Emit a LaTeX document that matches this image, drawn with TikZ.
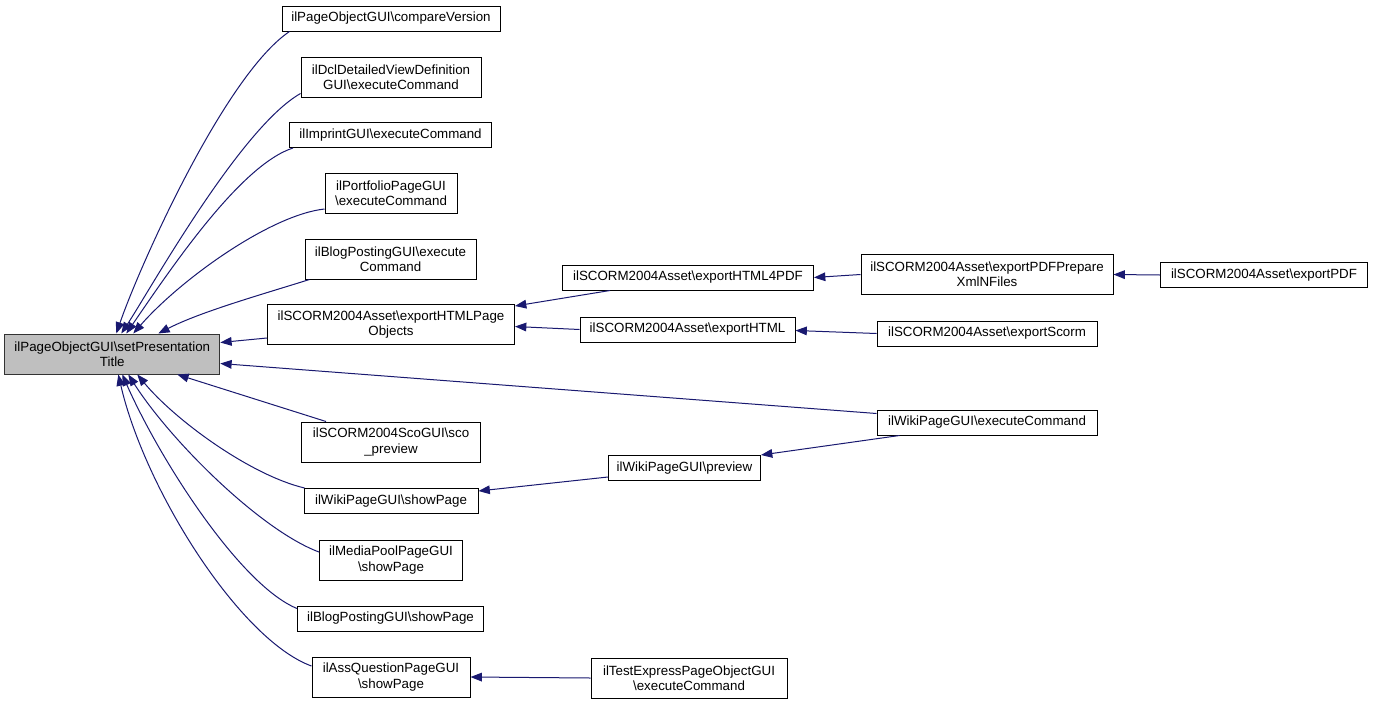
\documentclass[tikz,border=0pt]{standalone}
\usepackage{fontspec}
\setmainfont{Liberation Sans}
\usetikzlibrary{arrows.meta,calc}
\newcommand{\bsl}{\textbackslash}
\definecolor{edgeblue}{HTML}{191970}
\definecolor{rootgray}{HTML}{BFBFBF}
\begin{document}
\begin{tikzpicture}[x=0.75pt,y=-0.75pt,
  box/.style={draw=black,line width=0.75pt,fill=white,inner sep=0pt,align=center,
    font=\fontsize{10}{11.5}\selectfont},
  one/.style={box,minimum height=18.75pt},
  two/.style={box,minimum height=30pt},
  edge/.style={draw=edgeblue,line width=0.75pt,-{Triangle[length=8.5pt,width=6.5pt]}}]
\fill[white] (0,0) rectangle (1373,703);
\useasboundingbox (0,0) rectangle (1373,703);
% nodes
\node[two,fill=rootgray,draw=black!80,minimum width=161.25pt] (root) at (112.3,354) {ilPageObjectGUI\bsl setPresentation\\Title};
\node[one,minimum width=163.5pt] (cv) at (391,18.5) {ilPageObjectGUI\bsl compareVersion};
\node[two,minimum width=135pt] (dcl) at (391,77) {ilDclDetailedViewDefinition\\GUI\bsl executeCommand};
\node[one,minimum width=151.5pt] (imp) at (390.5,135) {ilImprintGUI\bsl executeCommand};
\node[two,minimum width=99pt] (port) at (391,193.5) {ilPortfolioPageGUI\\\bsl executeCommand};
\node[two,minimum width=128.25pt] (blogx) at (390.5,259) {ilBlogPostingGUI\bsl execute\\Command};
\node[two,minimum width=185.25pt] (hpo) at (391,324.5) {ilSCORM2004Asset\bsl exportHTMLPage\\Objects};
\node[two,minimum width=134.25pt] (sco) at (391,442) {ilSCORM2004ScoGUI\bsl sco\\\_preview};
\node[one,minimum width=130.5pt] (wshow) at (391,501) {ilWikiPageGUI\bsl showPage};
\node[two,minimum width=107.25pt] (mp) at (391,560) {ilMediaPoolPageGUI\\\bsl showPage};
\node[one,minimum width=139.5pt] (bshow) at (390.5,618.5) {ilBlogPostingGUI\bsl showPage};
\node[two,minimum width=118.5pt] (assq) at (391,677) {ilAssQuestionPageGUI\\\bsl showPage};
\node[one,minimum width=188.25pt] (h4p) at (688,277.5) {ilSCORM2004Asset\bsl exportHTML4PDF};
\node[one,minimum width=161.25pt] (hx) at (687.5,329.5) {ilSCORM2004Asset\bsl exportHTML};
\node[one,minimum width=114pt] (prev) at (684.5,468) {ilWikiPageGUI\bsl preview};
\node[two,minimum width=147pt] (texp) at (689,678) {ilTestExpressPageObjectGUI\\\bsl executeCommand};
\node[two,minimum width=189pt] (prep) at (987,274.5) {ilSCORM2004Asset\bsl exportPDFPrepare\\XmlNFiles};
\node[one,minimum width=165pt] (scorm) at (987,333.5) {ilSCORM2004Asset\bsl exportScorm};
\node[one,minimum width=165pt] (wexec) at (987,422.5) {ilWikiPageGUI\bsl executeCommand};
\node[one,minimum width=155.25pt] (pdf) at (1264,275) {ilSCORM2004Asset\bsl exportPDF};
% edges into root, top
\draw[edge] ($(cv.south west)+(8,0)$) .. controls (225,75) and (140,265) .. ($(root.north west)+(112,0)$);
\draw[edge] ($(dcl.south west)+(0,-4)$) .. controls (240,128) and (150,290) .. ($(root.north west)+(117,0)$);
\draw[edge] ($(imp.south west)+(4,0)$) .. controls (240,165) and (170,270) .. ($(root.north west)+(122,0)$);
\draw[edge] ($(port.south west)+(0,-5)$) .. controls (270,215) and (180,280) .. ($(root.north west)+(129,0)$);
\draw[edge] ($(blogx.south west)+(5,0)$) .. controls (260,295) and (200,312) .. ($(root.north west)+(154,0)$);
% edges into root, right side
\draw[edge] ($(hpo.west)+(0,13.5)$) -- ($(root.east)+(0,-11.5)$);
\draw[edge] ($(wexec.west)+(0,-9)$) -- ($(root.east)+(0,9.5)$);
% edges into root, bottom
\draw[edge] ($(sco.north west)+(25,0)$) -- ($(root.south west)+(173,0)$);
\draw[edge] ($(wshow.north west)+(1,0)$) .. controls (250,475) and (175,420) .. ($(root.south west)+(133,0)$);
\draw[edge] ($(mp.west)+(0,-8)$) .. controls (260,530) and (170,440) .. ($(root.south west)+(124,0)$);
\draw[edge] ($(bshow.west)+(0,-10)$) .. controls (240,585) and (160,460) .. ($(root.south west)+(118,0)$);
\draw[edge] ($(assq.west)+(0,-11)$) .. controls (240,640) and (145,490) .. ($(root.south west)+(114,0)$);
% other edges
\draw[edge] ($(h4p.south west)+(48,0)$) -- ($(hpo.north east)+(0,2)$);
\draw[edge] (hx.west) -- ($(hpo.east)+(0,2)$);
\draw[edge] (prep.west) -- (h4p.east);
\draw[edge] (pdf.west) -- (prep.east);
\draw[edge] (scorm.west) -- ($(hx.east)+(0,1)$);
\draw[edge] ($(wexec.south west)+(23,0)$) -- (prev.north east);
\draw[edge] ($(prev.south west)+(0,-4)$) -- ($(wshow.east)+(0,-10)$);
\draw[edge] (texp.west) -- (assq.east);
\end{tikzpicture}
\end{document}
